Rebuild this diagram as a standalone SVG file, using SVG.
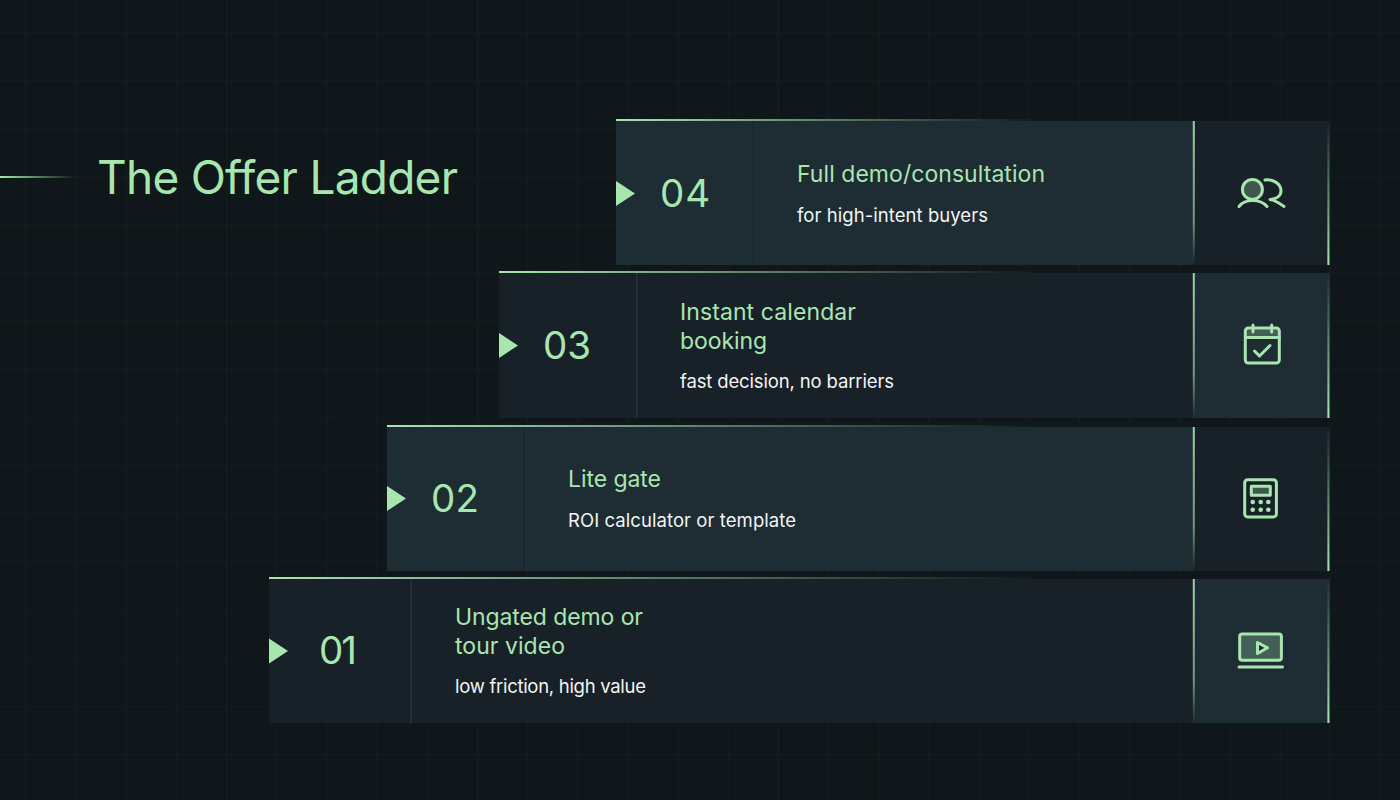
<svg xmlns="http://www.w3.org/2000/svg" width="1400" height="800" viewBox="0 0 1400 800">
<defs>
<pattern id="grid" x="25.300" y="32.300" width="50.170" height="48.100" patternUnits="userSpaceOnUse"><path d="M0.500 0V48.100M0 .5H50.170" fill="none" stroke="#151d1f" stroke-width="1"/></pattern>
<linearGradient id="top4" gradientUnits="userSpaceOnUse" x1="616" x2="1040" y1="0" y2="0"><stop offset="0" stop-color="#a8e6b0"/><stop offset=".5" stop-color="#a8e6b0" stop-opacity=".5"/><stop offset="1" stop-color="#a8e6b0" stop-opacity="0"/></linearGradient>
<linearGradient id="top3" href="#top4" x1="499"/>
<linearGradient id="top2" href="#top4" x1="387"/>
<linearGradient id="top1" href="#top4" x1="269"/>
<linearGradient id="vd" x1="0" x2="0" y1="0" y2="1"><stop offset="0" stop-color="#a8e6b0" stop-opacity=".9"/><stop offset=".7" stop-color="#a8e6b0" stop-opacity=".6"/><stop offset="1" stop-color="#a8e6b0" stop-opacity="0"/></linearGradient>
<linearGradient id="vu" x1="0" x2="0" y1="1" y2="0"><stop offset="0" stop-color="#a8e6b0"/><stop offset=".5" stop-color="#a8e6b0" stop-opacity=".5"/><stop offset="1" stop-color="#a8e6b0" stop-opacity="0"/></linearGradient>
<linearGradient id="rule" x1="0" x2="1" y1="0" y2="0"><stop offset="0" stop-color="#a8e6b0"/><stop offset="1" stop-color="#a8e6b0" stop-opacity="0"/></linearGradient>
</defs>
<style>
text{font-family:"Inter","Liberation Sans",sans-serif;font-variant-ligatures:none}
.a{fill:#1e2c33}.b{fill:#182127}
.title{font-size:46px;fill:#a8e6b0;font-weight:400}
.num{font-size:38.500px;fill:#a8e6b0}
.head{font-size:23px;fill:#a8e6b0;font-weight:400}
.sub{font-size:18.500px;fill:#f2f5f3;font-weight:400}
.tri{fill:#a8e6b0}
.sa{fill:#19252b}.sb{fill:#25343b}
.ic{fill:none;stroke:#a8e6b0;stroke-width:3;stroke-linecap:round;stroke-linejoin:round}
.ft{fill:#a8e6b0;fill-opacity:.28;stroke:none}
.dot{fill:#a8e6b0}
</style>
<rect width="1400" height="800" fill="#0f171a"/>
<rect width="1400" height="800" fill="url(#grid)"/>
<g id="title">
<rect x="0" y="176" width="75" height="2" fill="url(#rule)"/>
<text class="title" x="97" y="194" textLength="361">The Offer Ladder</text>
</g>
<g id="step-04">
<rect class="a" x="616" y="121" width="577" height="144"/>
<rect class="b" x="1193" y="121" width="137" height="144"/>
<rect x="616" y="119" width="714" height="2" fill="url(#top4)"/>
<rect class="sa" x="752" y="121" width="1.500" height="144"/>
<rect x="1192.800" y="121" width="2" height="144" fill="url(#vd)"/>
<rect x="1327.400" y="121" width="2" height="144" fill="url(#vu)"/>
<path class="tri" d="M616 181L635 193.500L616 206Z"/>
<text class="num" x="660" y="207" textLength="50">04</text>
<text class="head" x="797" y="182" textLength="248">Full demo/consultation</text>
<text class="sub" x="797" y="222" textLength="191">for high-intent buyers</text>
<g class="ic"><circle class="ft" cx="1252.400" cy="189.400" r="10"/><circle cx="1252.400" cy="189.400" r="10"/><path d="M1239 206.500C1245 198.500 1260 198.500 1267 206.500"/><path d="M1265 180C1272 179 1281 183 1281 191C1281 196 1276 199 1270 199.500C1275 200 1279 203 1284 206.500"/></g>
</g>
<g id="step-03">
<rect class="b" x="499" y="273" width="694" height="145"/>
<rect class="a" x="1193" y="273" width="137" height="145"/>
<rect x="499" y="271" width="831" height="2" fill="url(#top3)"/>
<rect class="sb" x="636" y="273" width="1.500" height="145"/>
<rect x="1192.800" y="273" width="2" height="145" fill="url(#vd)"/>
<rect x="1327.400" y="273" width="2" height="145" fill="url(#vu)"/>
<path class="tri" d="M499 333L518 345.500L499 358Z"/>
<text class="num" x="543" y="359" textLength="48">03</text>
<text class="head" x="680" y="320" textLength="176">Instant calendar</text>
<text class="head" x="680" y="348.500" textLength="87">booking</text>
<text class="sub" x="680" y="388" textLength="214">fast decision, no barriers</text>
<g class="ic"><rect class="ft" x="1245.300" y="328" width="34" height="9.500"/><rect x="1245.300" y="328" width="34" height="35" rx="3"/><path d="M1245.300 337.500H1279.300M1253 325V332M1271.700 325V332M1254.500 351L1259.500 356L1270 345.500"/></g>
</g>
<g id="step-02">
<rect class="a" x="387" y="427" width="806" height="144"/>
<rect class="b" x="1193" y="427" width="137" height="144"/>
<rect x="387" y="425" width="943" height="2" fill="url(#top2)"/>
<rect class="sa" x="523.500" y="427" width="1.500" height="144"/>
<rect x="1192.800" y="427" width="2" height="144" fill="url(#vd)"/>
<rect x="1327.400" y="427" width="2" height="144" fill="url(#vu)"/>
<path class="tri" d="M387 486L406 498.500L387 511Z"/>
<text class="num" x="431" y="512" textLength="48">02</text>
<text class="head" x="568" y="487" textLength="93">Lite gate</text>
<text class="sub" x="568" y="527" textLength="228">ROI calculator or template</text>
<g class="ic"><rect x="1244.700" y="479.700" width="31.700" height="37.200" rx="3"/><rect class="ft" x="1251.300" y="486.300" width="19" height="9"/><rect x="1251.300" y="486.300" width="19" height="9"/></g>
<g class="dot"><circle cx="1252.700" cy="502" r="2.300"/><circle cx="1260.700" cy="502" r="2.300"/><circle cx="1268.300" cy="502" r="2.300"/><circle cx="1252.700" cy="509.700" r="2.300"/><circle cx="1260.700" cy="509.700" r="2.300"/><circle cx="1268.300" cy="509.700" r="2.300"/></g>
</g>
<g id="step-01">
<rect class="b" x="269" y="579" width="924" height="144"/>
<rect class="a" x="1193" y="579" width="137" height="144"/>
<rect x="269" y="577" width="1061" height="2" fill="url(#top1)"/>
<rect class="sb" x="410.300" y="579" width="1.500" height="144"/>
<rect x="1192.800" y="579" width="2" height="144" fill="url(#vd)"/>
<rect x="1327.400" y="579" width="2" height="144" fill="url(#vu)"/>
<path class="tri" d="M269 638.500L288 651L269 663.500Z"/>
<text class="num" x="319" y="664" textLength="38">01</text>
<text class="head" x="455" y="625" textLength="188">Ungated demo or</text>
<text class="head" x="455" y="653.500" textLength="110">tour video</text>
<text class="sub" x="455" y="693" textLength="191">low friction, high value</text>
<g class="ic"><rect class="ft" x="1239.700" y="634" width="41.700" height="26.300"/><rect x="1239.700" y="634" width="41.700" height="26.300" rx="2.500"/><path d="M1239 667H1282.500M1257.500 642.500V653.500L1267.500 647.800Z" fill="#1a292c"/></g>
</g>
</svg>
